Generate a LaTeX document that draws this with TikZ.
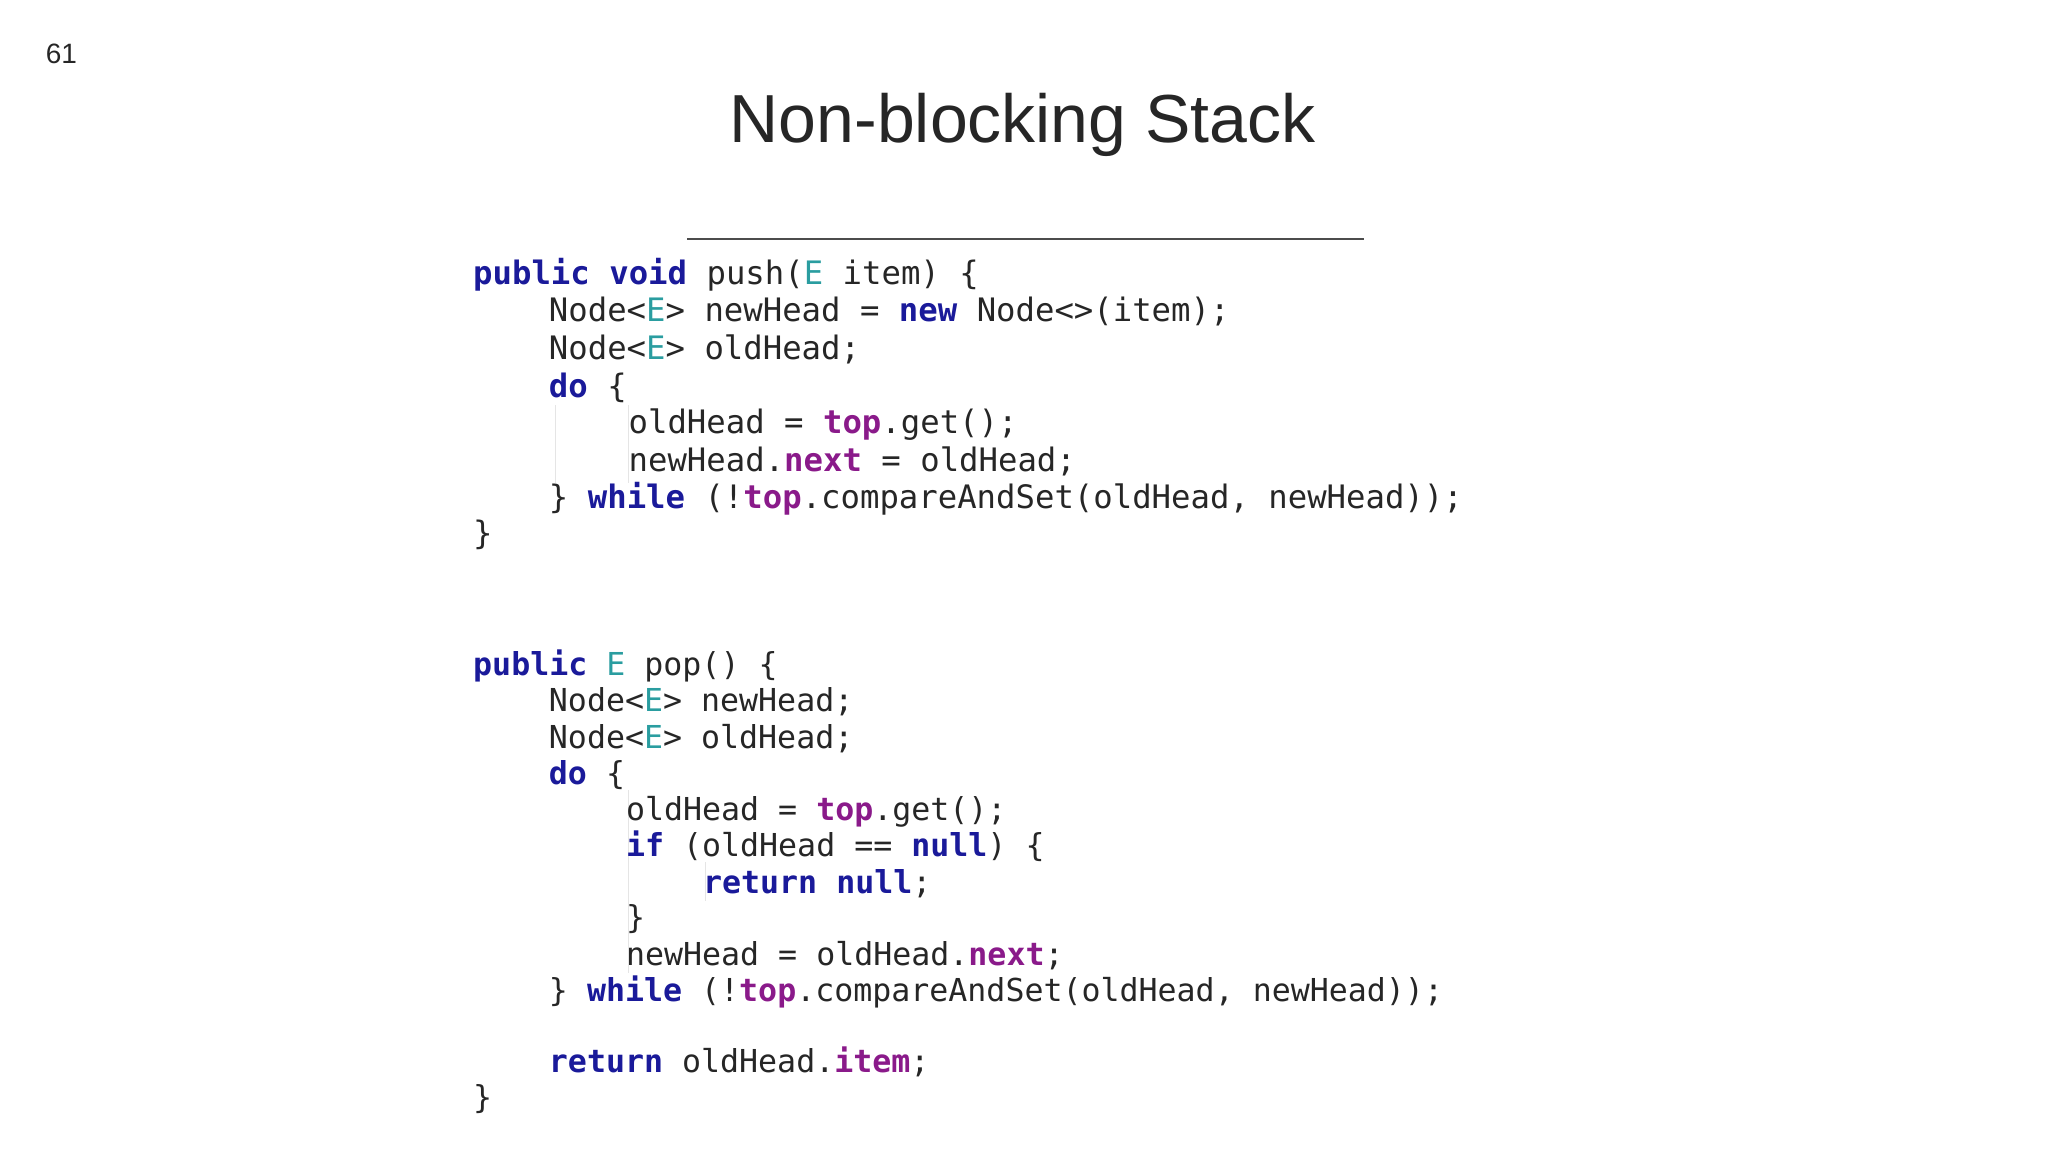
\documentclass[tikz,border=0pt]{standalone}
\usepackage{fontspec}
\setmainfont{Liberation Sans}
\newfontfamily\code{DejaVu Sans Mono}
\definecolor{kw}{HTML}{1A1A9A}
\definecolor{ty}{HTML}{2A9DA0}
\definecolor{fl}{HTML}{8A1A8A}
\newcommand{\K}[1]{\textbf{\color{kw}#1}}
\newcommand{\T}[1]{{\color{ty}#1}}
\newcommand{\F}[1]{\textbf{\color{fl}#1}}
\begin{document}
\begin{tikzpicture}[x=0.6531pt,y=-0.6531pt,
  cl/.style={anchor=base west,inner sep=0pt,font=\code\fontsize{15.8}{18}\selectfont,text=black!85},
  cla/.style={cl,font=\code\fontsize{16.15}{18}\selectfont}]
\useasboundingbox (0,0) rectangle (1568,882);
\node[anchor=center,font=\fontsize{14}{16}\selectfont,text=black!85] (pg) at (47,41) {61};
\node[anchor=center,font=\fontsize{34}{38}\selectfont,text=black!85] (title) at (783,96) {Non-blocking Stack};
\draw[black!70,line width=0.8pt] (526,183) coordinate (r1) -- (1044,183) coordinate (r2);
\foreach \x in {425,481}{\draw[black!10,line width=0.6pt] (\x,310) -- (\x,370);}
\draw[black!10,line width=0.6pt] (540,660) -- (540,690);
\draw[black!10,line width=0.6pt] (481,605) -- (481,745);
\node[cla] (a1) at (362,218) {\K{public} \K{void} push(\T{E} item) \{};
\node[cla] (a2) at (420,246) {Node<\T{E}> newHead = \K{new} Node<>(item);};
\node[cla] (a3) at (420,275) {Node<\T{E}> oldHead;};
\node[cla] (a4) at (420,304) {\K{do} \{};
\node[cla] (a5) at (481,332) {oldHead = \F{top}.get();};
\node[cla] (a6) at (481,361) {newHead.\F{next} = oldHead;};
\node[cla] (a7) at (420,389) {\} \K{while} (!\F{top}.compareAndSet(oldHead, newHead));};
\node[cla] (a8) at (362,417) {\}};
\node[cl] (b1) at (362,517) {\K{public} \T{E} pop() \{};
\node[cl] (b2) at (420,545) {Node<\T{E}> newHead;};
\node[cl] (b3) at (420,573) {Node<\T{E}> oldHead;};
\node[cl] (b4) at (420,601) {\K{do} \{};
\node[cl] (b5) at (479,628) {oldHead = \F{top}.get();};
\node[cl] (b6) at (479,656) {\K{if} (oldHead == \K{null}) \{};
\node[cl] (b7) at (538,684) {\K{return} \K{null};};
\node[cl] (b8) at (479,711) {\}};
\node[cl] (b9) at (479,739) {newHead = oldHead.\F{next};};
\node[cl] (b10) at (420,767) {\} \K{while} (!\F{top}.compareAndSet(oldHead, newHead));};
\node[cl] (b11) at (420,821) {\K{return} oldHead.\F{item};};
\node[cl] (b12) at (362,849) {\}};
\end{tikzpicture}
\end{document}
